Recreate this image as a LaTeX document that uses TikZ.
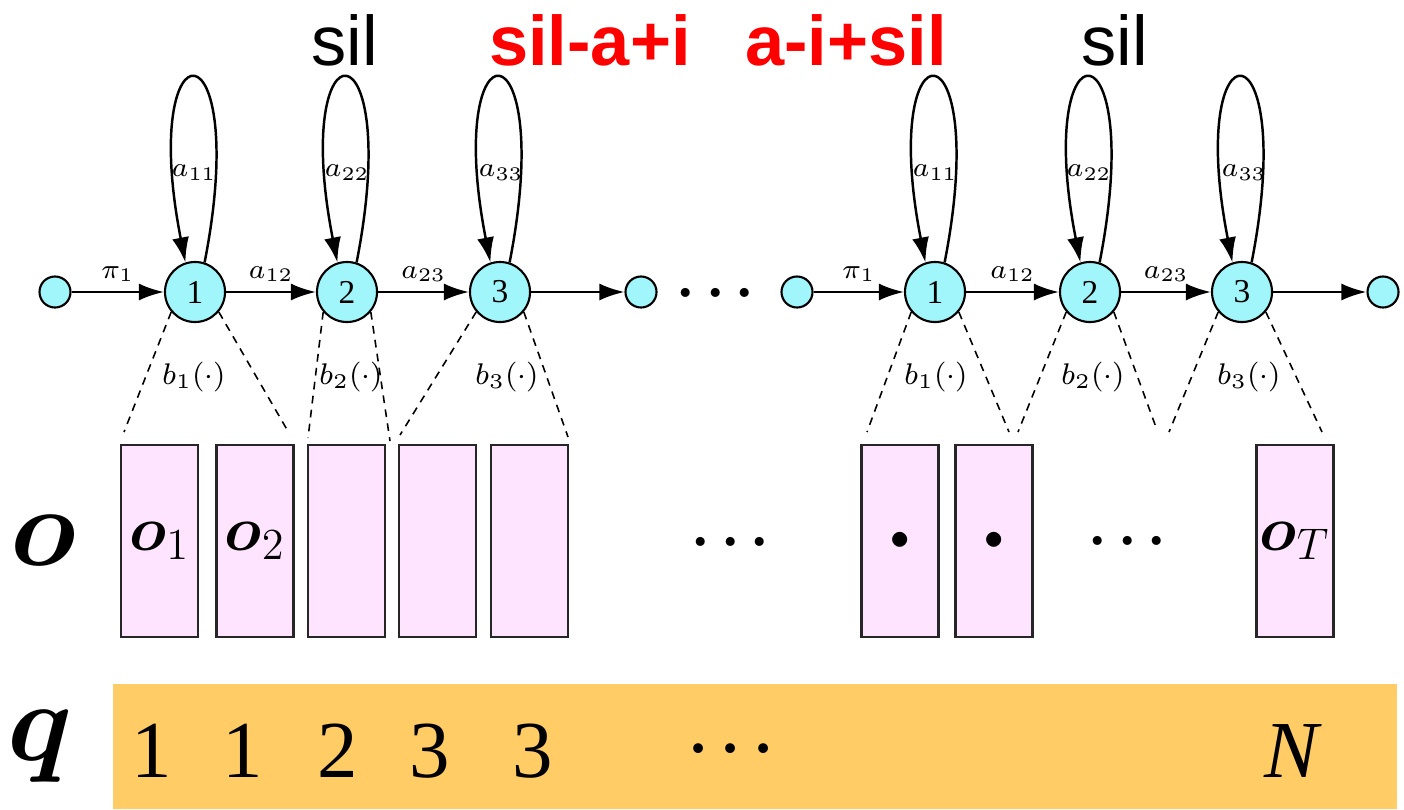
\RequirePackage{fix-cm}
\documentclass[tikz,border=0pt]{standalone}
\usepackage{amsmath}
\usepackage{fontspec}
\usetikzlibrary{arrows.meta}
\newfontfamily\phonefont{Liberation Sans}
\newfontfamily\serifnum{Liberation Serif}
\definecolor{stcyan}{RGB}{160,246,250}
\definecolor{frpink}{RGB}{255,228,255}
\definecolor{seqorange}{RGB}{255,204,102}
\definecolor{ctxred}{RGB}{255,0,0}

\tikzset{
	hmmstate/.style={circle, draw, fill=stcyan, line width=0.6pt, minimum size=0.6cm, inner sep=0pt, font=\serifnum\fontsize{9.5}{10}\selectfont},
	endpt/.style={circle, draw, fill=stcyan, line width=0.6pt, minimum size=0.31cm, inner sep=0pt},
	hop/.style={line width=0.7pt, -{Latex[length=2.5mm,width=1.7mm]}},
	emitline/.style={line width=0.45pt, dash pattern=on 2.2pt off 1.8pt},
	obsbox/.style={draw=black!85, fill=frpink, line width=0.6pt, minimum width=0.77cm, minimum height=1.92cm, inner sep=0pt, font=\fontsize{18}{20}\selectfont},
	arclab/.style={font=\fontsize{7.8}{9}\selectfont, inner sep=2.5pt},
	outlab/.style={font=\fontsize{8.5}{10}\selectfont},
	phone/.style={anchor=base, font=\phonefont\fontsize{20}{24}\selectfont},
	ctx/.style={text=ctxred, font=\phonefont\fontsize{20}{24}\bfseries\selectfont},
	dotrow/.style={anchor=base, font=\fontsize{16.5}{20}\selectfont},
	sidelab/.style={anchor=base, font=\fontsize{32}{36}\selectfont},
	seqnum/.style={anchor=base, font=\serifnum\fontsize{23}{26}\selectfont}
}

\begin{document}
\begin{tikzpicture}[x=0.01cm, y=-0.01cm]
	\useasboundingbox (0,0) rectangle (1404,809);

	% phone labels
	\node[phone] at (345,65) {sil};
	\node[phone, ctx] at (590,65) {sil-a+i};
	\node[phone, ctx] at (846,65) {a-i+sil};
	\node[phone] at (1115,65) {sil};

	% left model
	\node[endpt] (la) at (55,292) {};
	\node[hmmstate] (l1) at (195,292) {1};
	\node[hmmstate] (l2) at (347,292) {2};
	\node[hmmstate] (l3) at (500,292) {3};
	\node[endpt] (lb) at (641,292) {};
	\draw[hop] (la) -- node[arclab, above] {$\pi_1$} (l1);
	\draw[hop] (l1) -- node[arclab, above] {$a_{12}$} (l2);
	\draw[hop] (l2) -- node[arclab, above] {$a_{23}$} (l3);
	\draw[hop] (l3) -- (lb);

	\node[dotrow] (hdots) at (721,307) {$\boldsymbol{\cdots}$};

	% right model
	\node[endpt] (ra) at (797,292) {};
	\node[hmmstate] (r1) at (935,292) {1};
	\node[hmmstate] (r2) at (1090,292) {2};
	\node[hmmstate] (r3) at (1242,292) {3};
	\node[endpt] (rb) at (1383,292) {};
	\draw[hop] (ra) -- node[arclab, above] {$\pi_1$} (r1);
	\draw[hop] (r1) -- node[arclab, above] {$a_{12}$} (r2);
	\draw[hop] (r2) -- node[arclab, above] {$a_{23}$} (r3);
	\draw[hop] (r3) -- (rb);

	% self transitions
	\foreach \s in {l1,l2,l3,r1,r2,r3}
		\draw[hop] (\s.72) .. controls +(48,-245) and +(-48,-245) .. (\s.108);
	\node[arclab] at (194,173) {$a_{11}$};
	\node[arclab] at (347,173) {$a_{22}$};
	\node[arclab] at (501,173) {$a_{33}$};
	\node[arclab] at (935,173) {$a_{11}$};
	\node[arclab] at (1089,173) {$a_{22}$};
	\node[arclab] at (1244,173) {$a_{33}$};

	% output densities
	\coordinate (le1) at (124,432);
	\coordinate (le2) at (289,433);
	\coordinate (le3) at (308,438);
	\coordinate (le4) at (390,441);
	\coordinate (le5) at (400,435);
	\coordinate (le6) at (568,437);
	\coordinate (re1) at (867,432);
	\coordinate (re2) at (1009,432);
	\coordinate (re3) at (1018,432);
	\coordinate (re4) at (1157,430);
	\coordinate (re5) at (1169,432);
	\coordinate (re6) at (1322,432);
	\foreach \s/\a/\b in {l1/le1/le2, l2/le3/le4, l3/le5/le6, r1/re1/re2, r2/re3/re4, r3/re5/re6} {
		\draw[emitline] (\s.220) -- (\a);
		\draw[emitline] (\s.320) -- (\b);
	}
	\node[outlab] at (194,377) {$b_1(\cdot)$};
	\node[outlab] at (351,377) {$b_2(\cdot)$};
	\node[outlab] at (507,377) {$b_3(\cdot)$};
	\node[outlab] at (936,377) {$b_1(\cdot)$};
	\node[outlab] at (1093,377) {$b_2(\cdot)$};
	\node[outlab] at (1249,377) {$b_3(\cdot)$};

	% observation frames
	\node[sidelab] (obs) at (43,565) {$\boldsymbol{o}$};
	\node[obsbox] (f1) at (159.5,541) {$\boldsymbol{o}_1$};
	\node[obsbox] (f2) at (255,541) {$\boldsymbol{o}_2$};
	\node[obsbox] (f3) at (346.5,541) {};
	\node[obsbox] (f4) at (437.5,541) {};
	\node[obsbox] (f5) at (529.5,541) {};
	\node[dotrow] (odots1) at (736,556) {$\boldsymbol{\cdots}$};
	\node[obsbox] (f6) at (900,541) {\fontsize{11}{12}\selectfont$\bullet$};
	\node[obsbox] (f7) at (994,541) {\fontsize{11}{12}\selectfont$\bullet$};
	\node[dotrow] (odots2) at (1133,555) {$\boldsymbol{\cdots}$};
	\node[obsbox] (fT) at (1295,541) {$\boldsymbol{o}_T$};

	% state sequence
	\fill[seqorange] (113,684) rectangle (1397,809);
	\node[sidelab] (seq) at (40,760) {$\boldsymbol{q}$};
	\node[seqnum] at (152,777) {1};
	\node[seqnum] at (243,777) {1};
	\node[seqnum] at (338,777) {2};
	\node[seqnum] at (430,777) {3};
	\node[seqnum] at (533,777) {3};
	\node[dotrow, font=\fontsize{18}{20}\selectfont] (qdots) at (737,764) {$\boldsymbol{\cdots}$};
	\node[seqnum] at (1291,777) {\itshape N};
\end{tikzpicture}
\end{document}
